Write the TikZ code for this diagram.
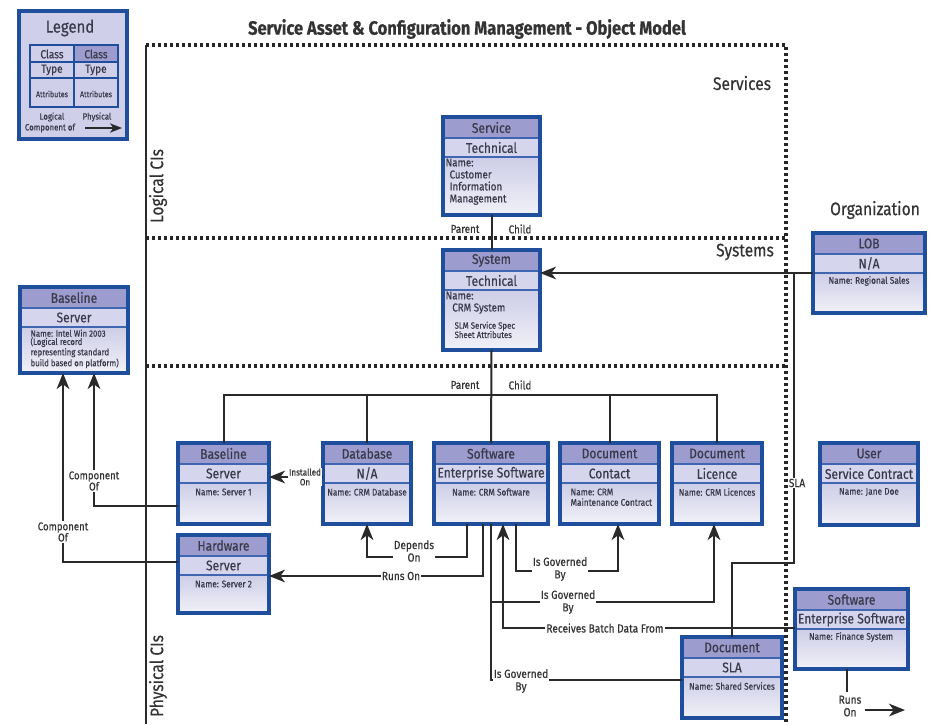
\documentclass[tikz,border=0pt]{standalone}
\usepackage{fontspec}
\setmainfont[FakeStretch=0.86,FakeBold=0.45]{Fira Sans}
\usetikzlibrary{arrows.meta,calc}

\definecolor{frameblue}{HTML}{1E4E9C}
\definecolor{rowblue}{HTML}{3F66B0}
\definecolor{hdrfill}{HTML}{9C9CCE}
\definecolor{typefill}{HTML}{D5D5ED}
\definecolor{attrtop}{HTML}{CDCDE7}
\definecolor{attrbot}{HTML}{F1F1F8}
\definecolor{legendbg}{HTML}{CFCFE9}
\definecolor{ink}{HTML}{333333}
\definecolor{boxink}{HTML}{3A3A4C}
\definecolor{linec}{HTML}{2A2A2A}

\tikzset{
  ciframe/.style={draw=frameblue, line width=2.4pt, rectangle, outer sep=0pt, inner sep=0pt},
  rowline/.style={draw=rowblue, line width=0.8pt},
  hdrtext/.style={font=\fontsize{10.5pt}{12pt}\selectfont, text=boxink, inner sep=0pt},
  nametext/.style={font=\fontsize{7.2pt}{7.8pt}\selectfont, text=boxink, inner sep=1pt},
  attrtext/.style={font=\fontsize{8.5pt}{9pt}\selectfont, text=boxink, inner sep=1pt, align=left},
  conn/.style={draw=linec, line width=1.5pt},
  arr/.style={conn, -{Stealth[length=12pt, width=9.5pt, inset=3.5pt]}},
  lbl/.style={font=\fontsize{8.8pt}{9.4pt}\selectfont, text=ink, fill=white, inner sep=0.8pt, align=center},
  smalllbl/.style={font=\fontsize{7pt}{7.4pt}\selectfont, text=ink, fill=white, inner sep=0.6pt, align=center},
  pclabel/.style={font=\fontsize{8.6pt}{9pt}\selectfont, text=ink, inner sep=0pt},
  dotline/.style={draw=black!85, line width=2.4pt, dash pattern=on 2.2pt off 2.3pt},
  regionlbl/.style={font=\fontsize{13.6pt}{15pt}\selectfont, text=ink, inner sep=0pt},
  legendtxt/.style={font=\fontsize{8.8pt}{9pt}\selectfont, text=boxink, inner sep=0pt},
  legendsmall/.style={font=\fontsize{6.8pt}{7pt}\selectfont, text=boxink, inner sep=0pt},
}

% configuration item box: name, left, top, width, height, class, type
\newcommand\cibox[7]{%
  \shade[top color=attrtop, bottom color=attrbot] (#2,#3+40) rectangle (#2+#4,#3+#5);
  \fill[hdrfill] (#2,#3) rectangle (#2+#4,#3+21);
  \fill[typefill] (#2,#3+21) rectangle (#2+#4,#3+40);
  \draw[rowline] (#2,#3+21) -- (#2+#4,#3+21) (#2,#3+40) -- (#2+#4,#3+40);
  \node[ciframe, minimum width=#4*0.75pt, minimum height=#5*0.75pt, anchor=north west] (#1) at (#2,#3) {};
  \node[hdrtext] (#1-class) at (#2+#4/2,#3+10.5) {#6};
  \node[hdrtext] (#1-type) at (#2+#4/2,#3+30.5) {#7};
}

\begin{document}
\begin{tikzpicture}[x=0.75pt,y=-0.75pt]
\useasboundingbox (0,0) rectangle (930,724);
\fill[white] (0,0) rectangle (930,724);

% ---------- title and region frame ----------
\node[font=\fontsize{14.4pt}{16pt}\selectfont\bfseries, text=ink] (title) at (467,29)
  {Service Asset \& Configuration Management - Object Model};

\draw[draw=linec, line width=1.5pt] (146,45) -- (146,724);
\draw[dotline] (146,45) -- (786,45) -- (786,724);
\draw[dotline] (146,238) -- (786,238);
\draw[dotline] (146,366) -- (786,366);

\node[regionlbl] (services) at (742,83) {Services};
\node[regionlbl] (systems) at (745,252) {Systems};
\node[regionlbl] (organization) at (875,210) {Organization};
\node[regionlbl, rotate=90] (logical) at (158,186) {Logical CIs};
\node[regionlbl, rotate=90] (physical) at (158,676) {Physical CIs};

% ---------- legend ----------
\node[ciframe, fill=legendbg, minimum width=108*0.75pt, minimum height=128*0.75pt, anchor=north west] (legend) at (19,11) {};
\node[font=\fontsize{13pt}{14pt}\selectfont, text=boxink] (legend-title) at (70,28) {Legend};
\fill[hdrfill] (74,45) rectangle (118,62);
\draw[draw=frameblue, line width=1.1pt] (30,45) rectangle (118,107)
  (74,45) -- (74,107) (30,62) -- (118,62) (30,78) -- (118,78);
\node[legendtxt] (lg-c1) at (52,54) {Class};
\node[legendtxt] (lg-c2) at (96,54) {Class};
\node[legendtxt] (lg-t1) at (52,70) {Type};
\node[legendtxt] (lg-t2) at (96,70) {Type};
\node[font=\fontsize{6.2pt}{6.5pt}\selectfont, text=boxink] (lg-a1) at (52,94) {Attributes};
\node[font=\fontsize{6.2pt}{6.5pt}\selectfont, text=boxink] (lg-a2) at (96,94) {Attributes};
\node[legendsmall] (lg-log) at (52,117) {Logical};
\node[legendsmall] (lg-phy) at (97,117) {Physical};
\node[legendsmall] (lg-comp) at (50,128) {Component of};
\coordinate (lgA) at (85,128);
\coordinate (lgB) at (122,128);
\draw[conn, line width=1.3pt, -{Stealth[length=9pt, width=7pt, inset=2.5pt]}] (lgA) -- (lgB);

% ---------- logical CIs ----------
\cibox{svc}{443}{117}{97}{98}{Service}{Technical}
\node[attrtext, anchor=north west] (svc-attr) at (444,157)
  {Name:\\\hspace*{3pt}Customer\\\hspace*{3pt}Information\\\hspace*{3pt}Management};

\cibox{sys}{443}{250}{97}{100}{System}{Technical}
\node[attrtext, anchor=north west] (sys-attr) at (444,290) {Name:\\\hspace*{5pt}CRM System};
\node[attrtext, font=\fontsize{6.8pt}{7pt}\selectfont, anchor=north west] (sys-attr2) at (453,320)
  {SLM Service Spec\\Sheet Attributes};

\cibox{lob}{813}{233}{112}{80}{LOB}{N/A}
\node[nametext] (lob-attr) at (869,281) {Name: Regional Sales};

\cibox{basel}{20}{287}{108}{86}{Baseline}{Server}
\node[attrtext, font=\fontsize{6.8pt}{6.2pt}\selectfont, anchor=north west] (basel-attr) at (29,328)
  {Name: Intel Win 2003\\(Logical record\\representing standard\\build based on platform)};

% ---------- physical CIs ----------
\cibox{bs}{178}{443}{91}{81}{Baseline}{Server}
\node[nametext] (bs-attr) at (223.5,492) {Name: Server 1};

\cibox{db}{323}{443}{88}{81}{Database}{N/A}
\node[nametext] (db-attr) at (367,492) {Name: CRM Database};

\cibox{sw}{434}{443}{114}{81}{Software}{Enterprise Software}
\node[nametext] (sw-attr) at (491,492) {Name: CRM Software};

\cibox{con}{560}{443}{99}{81}{Document}{Contact}
\node[nametext, align=left, anchor=north west] (con-attr) at (569,487) {Name: CRM\\Maintenance Contract};

\cibox{lic}{672}{443}{90}{81}{Document}{Licence}
\node[nametext] (lic-attr) at (717,492) {Name: CRM Licences};

\cibox{usr}{820}{443}{98}{82}{User}{Service Contract}
\node[nametext] (usr-attr) at (869,492) {Name: Jane Doe};

\cibox{hw}{178}{535}{91}{78}{Hardware}{Server}
\node[nametext] (hw-attr) at (223.5,584) {Name: Server 2};

\cibox{fin}{795}{589}{113}{80}{Software}{Enterprise Software}
\node[nametext] (fin-attr) at (851,637) {Name: Finance System};

\cibox{sla}{682}{637}{100}{81}{Document}{SLA}
\node[nametext] (sla-attr) at (732,686) {Name: Shared Services};

% ---------- routing levels ----------
\coordinate (yLob) at (0,273);
\coordinate (bus) at (0,395);
\coordinate (yInst) at (0,477);
\coordinate (yC1) at (0,506);
\coordinate (xC1) at (94,0);
\coordinate (yC2) at (0,562);
\coordinate (xC2) at (63,0);
\coordinate (xDep) at (467,0);
\coordinate (yDep) at (0,557);
\coordinate (xRun) at (483,0);
\coordinate (yRun) at (0,576);
\coordinate (xGc) at (516,0);
\coordinate (yGc) at (0,571);
\coordinate (xCon) at (618,0);
\coordinate (yLic) at (0,602);
\coordinate (xLic) at (714,0);
\coordinate (xRec) at (503,0);
\coordinate (yRec) at (0,628);
\coordinate (ySla) at (0,680);
\coordinate (ySlaH) at (0,563);
\coordinate (xSlaV) at (794,0);
\coordinate (xFin) at (847,0);
\coordinate (yFin) at (0,692);
\coordinate (roA) at (865,710);
\coordinate (roB) at (905,710);

% ---------- parent / child ----------
\draw[conn] (svc.south) -- (sys.north);
\node[pclabel] (pc1p) at (465,229) {Parent};
\node[pclabel] (pc1c) at (520,229) {Child};

\draw[conn] (sys.south) -- (sw.north);
\node[pclabel] (pc2p) at (465,385) {Parent};
\node[pclabel] (pc2c) at (520,385) {Child};

\draw[conn] (bs.north) |- (lic.north |- bus) -- (lic.north);
\draw[conn] (db.north) -- (db.north |- bus);
\draw[conn] (con.north) -- (con.north |- bus);

% ---------- organization ----------
\draw[arr] (lob.west |- yLob) -- (sys.east |- yLob);

% ---------- relations ----------
\draw[arr] (db.west |- yInst) -- (bs.east |- yInst);
\node[smalllbl] (l-inst) at (305,477) {Installed\\On};

\draw[arr] (bs.west |- yC1) -| (xC1 |- basel.south);
\node[lbl, font=\fontsize{8.4pt}{8.4pt}\selectfont] (l-comp1) at (94,481) {Component\\Of};

\draw[arr] (hw.west |- yC2) -| (xC2 |- basel.south);
\node[lbl, font=\fontsize{8.4pt}{8.4pt}\selectfont] (l-comp2) at (63,532) {Component\\Of};

\draw[arr] (xDep |- sw.south) |- (db.south |- yDep) -- (db.south);
\node[lbl] (l-dep) at (414,551) {Depends\\On};

\draw[arr] (xRun |- sw.south) |- (hw.east |- yRun);
\node[lbl] (l-run) at (401,576) {Runs On};

\draw[arr] (xGc |- sw.south) |- (xCon |- yGc) -- (xCon |- con.south);
\node[lbl] (l-gov1) at (560,569) {Is Governed\\By};

\draw[conn] (sw.south) |- (sla.west |- ySla);
\node[lbl] (l-gov3) at (521,681) {Is Governed\\By};

\draw[arr] (sw.south |- yLic) -| (xLic |- lic.south);
\node[lbl] (l-gov2) at (568,602) {Is Governed\\By};

\draw[arr] (fin.west |- yRec) -| (xRec |- sw.south);
\node[lbl] (l-rec) at (605,628) {Receives Batch Data From};

\draw[conn] (sla.north) |- (xSlaV |- ySlaH) -- (xSlaV |- yLob);
\node[lbl] (l-sla) at (797,483) {SLA};

\draw[conn] (xFin |- fin.south) -- (xFin |- yFin);
\node[lbl, fill=none] (l-ro) at (850,706) {Runs\\On};
\draw[arr] (roA) -- (roB);
\end{tikzpicture}
\end{document}
